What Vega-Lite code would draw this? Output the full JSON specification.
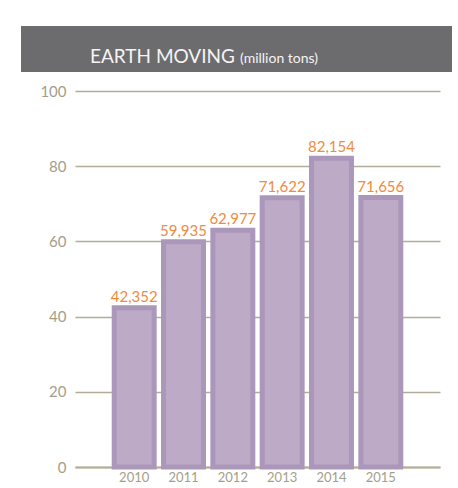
{
  "$schema": "https://vega.github.io/schema/vega-lite/v6.json",
  "padding": {"top": 26, "left": 21, "right": 0, "bottom": 0},
  "background": "#ffffff",
  "width": 431,
  "height": 441,
  "config": {
    "font": "Lato",
    "view": {"stroke": null},
    "locale": {"number": {"decimal": ",", "thousands": ".", "grouping": [3], "currency": ["", "€"]}}
  },
  "layer": [
    {
      "data": {"values": [{"label": "EARTH MOVING", "unit": "(million tons)"}]},
      "layer": [
        {
          "mark": {"type": "rect", "color": "#6c6c6f"},
          "encoding": {
            "y": {"datum": 105.05, "type": "quantitative", "scale": {"domain": [0, 117.3], "nice": false},
              "axis": {"values": [0, 20, 40, 60, 80, 100], "offset": -54, "grid": true, "gridColor": "#b2ad98", "gridWidth": 1.5, "domain": false, "ticks": false, "labelPadding": 9, "labelFontSize": 15, "labelColor": "#a39e8b", "title": null}},
            "y2": {"datum": 117.3}
          }
        },
        {
          "mark": {"type": "text", "align": "left", "baseline": "alphabetic", "dx": -146.5, "fontSize": 19, "color": "#f4f4f4"},
          "encoding": {
            "y": {"datum": 107.45, "type": "quantitative", "scale": {"domain": [0, 117.3], "nice": false},
              "axis": {"values": [0, 20, 40, 60, 80, 100], "offset": -54, "grid": true, "gridColor": "#b2ad98", "gridWidth": 1.5, "domain": false, "ticks": false, "labelPadding": 9, "labelFontSize": 15, "labelColor": "#a39e8b", "title": null}},
            "text": {"field": "label"}
          }
        },
        {
          "mark": {"type": "text", "align": "left", "baseline": "alphabetic", "dx": 3.5, "fontSize": 14, "color": "#f4f4f4"},
          "encoding": {
            "y": {"datum": 107.45, "type": "quantitative", "scale": {"domain": [0, 117.3], "nice": false},
              "axis": {"values": [0, 20, 40, 60, 80, 100], "offset": -54, "grid": true, "gridColor": "#b2ad98", "gridWidth": 1.5, "domain": false, "ticks": false, "labelPadding": 9, "labelFontSize": 15, "labelColor": "#a39e8b", "title": null}},
            "text": {"field": "unit"}
          }
        }
      ]
    },
    {
      "data": {
        "values": [
          {"year": "2010", "value": 42.352},
          {"year": "2011", "value": 59.935},
          {"year": "2012", "value": 62.977},
          {"year": "2013", "value": 71.622},
          {"year": "2014", "value": 82.154},
          {"year": "2015", "value": 71.656}
        ]
      },
      "encoding": {
        "x": {
          "field": "year",
          "type": "ordinal",
          "scale": {"range": [54, 419], "paddingInner": 0.19, "paddingOuter": 0.795},
          "axis": {"title": null, "labelAngle": 0, "domain": true, "domainColor": "#b2ad98", "domainWidth": 2, "ticks": false, "labelPadding": 4, "labelFontSize": 13, "labelColor": "#a39e8b", "labelBaseline": "top"}
        },
        "y": {
          "field": "value",
          "type": "quantitative",
          "scale": {"domain": [0, 117.3], "nice": false},
          "axis": {"values": [0, 20, 40, 60, 80, 100], "offset": -54, "grid": true, "gridColor": "#b2ad98", "gridWidth": 1.5, "domain": false, "ticks": false, "labelPadding": 9, "labelFontSize": 15, "labelColor": "#a39e8b", "title": null}
        }
      },
      "layer": [
        {"mark": {"type": "bar", "fill": "#bcaac6", "stroke": "#ab97ba", "strokeWidth": 5}},
        {
          "mark": {"type": "text", "color": "#f08a3c", "baseline": "alphabetic", "dy": -6, "fontSize": 15},
          "encoding": {"text": {"field": "value", "type": "quantitative", "format": ".3f"}}
        }
      ]
    }
  ]
}
